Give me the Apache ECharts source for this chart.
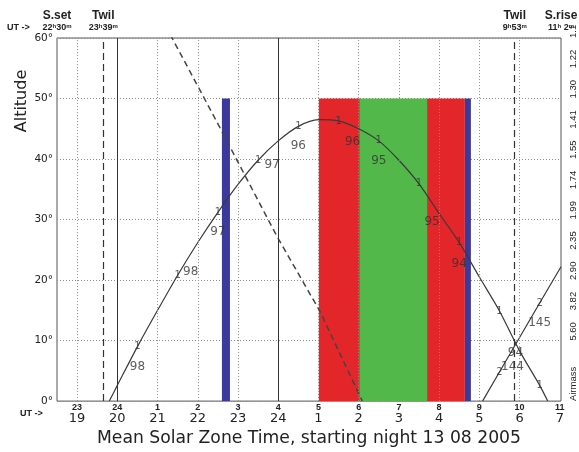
<!DOCTYPE html>
<html><head><meta charset="utf-8">
<script src="https://cdn.jsdelivr.net/npm/echarts@6/dist/echarts.min.js"></script>
<style>html,body{margin:0;padding:0;background:#fff}#c{width:579px;height:452px}</style>
</head><body><div id="c"></div>
<script>
// ---- data ----
const localHours = [19,20,21,22,23,24,25,26,27,28,29,30,31];
const utLabels = ['23','24','1','2','3','4','5','6','7','8','9','10','11'];
const localLabels = ['19','20','21','22','23','24','1','2','3','4','5','6','7'];
const altTicks = [0,10,20,30,40,50,60];
const altLabels = ['0°','10°','20°','30°','40°','50°','60°'];
const airmassAlt = [0,10,15,20,25,30,35,40,45,50,55,60];
const airmassLabels = ['Airmass','5.60','3.82','2.90','2.35','1.99','1.74','1.55','1.41','1.30','1.22','1.1'];
const obj1Time = [19.8,20,20.5,21,21.5,22,22.5,23,23.5,24,24.5,25,25.5,26,26.5,27,27.5,28,28.5,29,29.5,30,30.5,30.7];
const obj1Alt  = [0,2.6,9,15,20.8,26.2,31.2,35.8,39.8,43,45.4,46.5,46.3,45,43,39.8,35.9,31,26.2,20.5,14.9,8.3,2.6,0];
const obj1Id = '1';
const obj1LabelTime = [20.5,21.5,22.5,23.5,24.5,25.5,26.5,27.5,28.5,29.5,30.5];
const obj1Dist = ['98','98','97','97','96','96','95','95','94','94',''];
const obj2Time = [29.08,29.5,30,30.5,31.03];
const obj2Alt  = [0,4.8,10.5,16.2,22.2];
const obj2Id = '2';
const obj2LabelTime = [29.5,30.5];
const obj2Dist = ['144','145'];
const dashTime = [21.2,22.43,23.97,25.04,26.09];
const dashAlt  = [62,46.7,27.2,14.8,0];
const twilightTimes = [19.65,29.88];
const midnightTimes = [20,24];
const gridHours = [19,21,22,23,25,26,27,28,29,30];
const blockStart = [22.60,25.01,26.03,27.70,28.64];
const blockEnd   = [22.80,26.03,27.70,28.64,28.79];
const blockKind  = ['blue','red','green','red','blue'];
const blockTop = 50;
const eventNames = ['S.set','Twil','Twil','S.rise'];
const eventTimes = [18.5,19.65,29.88,31.03];
const eventUT = [['22','30'],['23','39'],['9','53'],['11',' 2']];
const xMin = 18.5, xMax = 31.03;

// ---- helpers ----
function altAt(t, times, alts){
  for (let i=0;i<times.length-1;i++){
    if (t>=times[i] && t<=times[i+1]){
      const f=(t-times[i])/(times[i+1]-times[i]);
      return alts[i]+f*(alts[i+1]-alts[i]);
    }
  }
  return alts[alts.length-1];
}
const zip = (a,b)=>a.map((v,i)=>[v,b[i]]);
const DV = 'DejaVu Sans', LS = 'Liberation Sans';
const blockColors = {red:'#e2262a', green:'#52b84a', blue:'#3b3a9c'};
const numOffsets1 = [[0,20],[13,-3],[0,20],[14,5],[0,20],[14,21],[0,20],[13,38],[0,21],[16,42],[0,20]];
const numOffsets2 = [[13,-5],[0,20]];

function labelSeries(times, tAll, aAll, texts, offsets, size){
  return {
    type:'scatter', symbolSize:1, z:6, silent:true,
    itemStyle:{color:'rgba(0,0,0,0)'},
    data: times.map((t,i)=>({value:[t, altAt(t,tAll,aAll)], label:{offset: offsets ? offsets[i] : [0,0]}})),
    label:{show:true, position:'inside', color:'#333', fontFamily:DV, fontSize:size,
      formatter: p => texts[p.dataIndex]}
  };
}

const chart = echarts.init(document.getElementById('c'), null, {renderer:'canvas'});
const option = {
  animation:false,
  backgroundColor:'#fff',
  grid:{left:57, right:18, top:38, bottom:44, show:true, borderColor:'#555', borderWidth:1},
  xAxis:{
    type:'value', min:xMin, max:xMax, interval:0.5,
    splitLine:{show:false}, axisTick:{show:false}, axisLine:{show:false},
    axisLabel:{
      margin:2, color:'#222',
      formatter: v => {
        const r = Math.round(v);
        const i = localHours.indexOf(r);
        if (Math.abs(v-r)>1e-6 || i<0) return '';
        return '{u|'+utLabels[i]+'}\n{l|'+localLabels[i]+'}';
      },
      rich:{
        u:{fontSize:9, fontWeight:'bold', fontFamily:LS, lineHeight:9, color:'#222', align:'center'},
        l:{fontSize:13, fontFamily:DV, lineHeight:13, color:'#222', align:'center'}
      }
    },
    name:'Mean Solar Zone Time, starting night 13 08 2005',
    nameLocation:'middle', nameGap:24,
    nameTextStyle:{fontFamily:DV, fontSize:17.2, color:'#222'}
  },
  yAxis:[{
    type:'value', min:0, max:60, interval:10,
    splitLine:{show:true, lineStyle:{type:[1,2], color:'#8c8c8c', width:1}},
    axisTick:{show:false}, axisLine:{show:false},
    axisLabel:{margin:4, color:'#222', fontFamily:DV, fontSize:10.5,
      formatter: v => { const i = altTicks.indexOf(v); return i<0 ? '' : altLabels[i]; }}
  },{
    type:'value', min:0, max:60, interval:5, position:'right',
    splitLine:{show:false}, axisTick:{show:false}, axisLine:{show:false},
    axisLabel:{margin:7, rotate:90, align:'left', verticalAlign:'top', color:'#222', fontFamily:LS, fontSize:9.5,
      formatter: v => { const i = airmassAlt.indexOf(v); return i<0 ? '' : airmassLabels[i]; }}
  }],
  series:[
    {
      type:'line', name:'obj1', z:3, data: zip(obj1Time,obj1Alt),
      symbol:'none', smooth:0.3, lineStyle:{color:'#3a3a3a', width:1.2},
      markArea:{silent:true, data: blockStart.map((s,i)=>[
        {xAxis:s, yAxis:0, itemStyle:{color:blockColors[blockKind[i]]}},
        {xAxis:blockEnd[i], yAxis:blockTop}
      ])}
    },
    {
      type:'line', name:'obj2', z:3, data: zip(obj2Time,obj2Alt),
      symbol:'none', lineStyle:{color:'#3a3a3a', width:1.2}
    },
    {
      type:'line', name:'moon', z:3, data: zip(dashTime,dashAlt),
      symbol:'none', lineStyle:{color:'#444', width:1.5, type:[6,4]},
      markLine:{silent:true, symbol:['none','none'], label:{show:false},
        data:[].concat(
          gridHours.map(h=>({xAxis:h, lineStyle:{type:[1,2], color:'#8c8c8c', width:1}})),
          twilightTimes.map(t=>({xAxis:t, lineStyle:{type:[7,4], color:'#333', width:1.2}})),
          midnightTimes.map(t=>({xAxis:t, lineStyle:{type:'solid', color:'#333', width:1}}))
        )}
    },
    labelSeries(obj1LabelTime, obj1Time, obj1Alt, obj1LabelTime.map(()=>obj1Id), null, 10),
    labelSeries(obj1LabelTime, obj1Time, obj1Alt, obj1Dist, numOffsets1, 12),
    labelSeries(obj2LabelTime, obj2Time, obj2Alt, obj2LabelTime.map(()=>obj2Id), null, 10),
    labelSeries(obj2LabelTime, obj2Time, obj2Alt, obj2Dist, numOffsets2, 12)
  ]
};
chart.setOption(option);

// header texts placed at the event times via the x scale
const supRich = {
  d:{fontSize:9, fontWeight:'bold', fontFamily:LS, fill:'#222'},
  s:{fontSize:6, fontWeight:'bold', fontFamily:LS, fill:'#222', verticalAlign:'top'}
};
const g = [];
eventNames.forEach((n,i)=>{
  const px = chart.convertToPixel({xAxisIndex:0, yAxisIndex:0}, [eventTimes[i],0])[0];
  g.push({type:'text', x:px, y:16, style:{text:n, font:'bold 12px "Liberation Sans"', fill:'#222', align:'center', verticalAlign:'middle'}});
  g.push({type:'text', x:px, y:28, style:{text:'{d|'+eventUT[i][0]+'}{s|h}{d|'+eventUT[i][1]+'}{s|m}', rich:supRich, align:'center', verticalAlign:'middle'}});
});
g.push({type:'text', x:7, y:28, style:{text:'UT ->', font:'bold 9px "Liberation Sans"', fill:'#222', align:'left', verticalAlign:'middle'}});
g.push({type:'text', x:20, y:414, style:{text:'UT ->', font:'bold 9px "Liberation Sans"', fill:'#222', align:'left', verticalAlign:'middle'}});
g.push({type:'text', x:22, y:101, rotation:Math.PI/2, style:{text:'Altitude', font:'16px "DejaVu Sans"', fill:'#222', align:'center', verticalAlign:'middle'}});
chart.setOption({graphic:g});
</script>
</body></html>
